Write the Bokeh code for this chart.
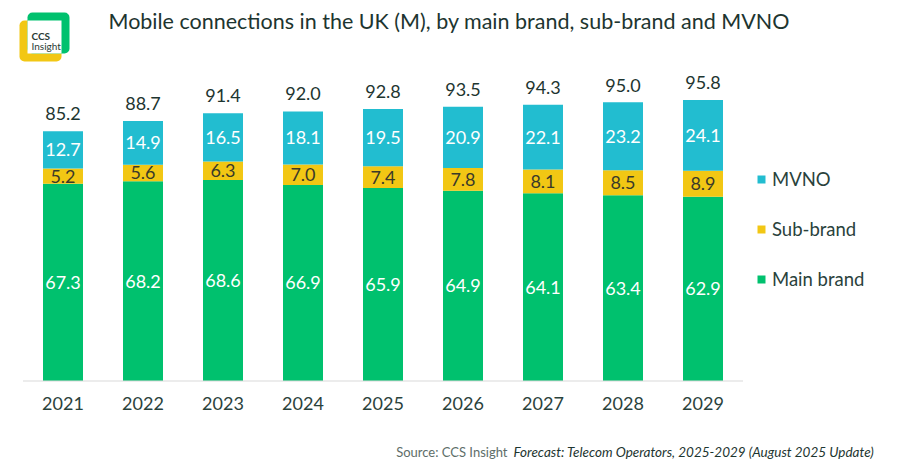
from bokeh.plotting import figure
from bokeh.models import (ColumnDataSource, LabelSet, Label, Legend, LegendItem,
                          BoxAnnotation, Range1d)
from bokeh.embed import file_html
from bokeh.resources import INLINE
from bokeh.core.properties import value

years = ["2021", "2022", "2023", "2024", "2025", "2026", "2027", "2028", "2029"]
main_brand = [67.3, 68.2, 68.6, 66.9, 65.9, 64.9, 64.1, 63.4, 62.9]
sub_brand = [5.2, 5.6, 6.3, 7.0, 7.4, 7.8, 8.1, 8.5, 8.9]
mvno = [12.7, 14.9, 16.5, 18.1, 19.5, 20.9, 22.1, 23.2, 24.1]
totals = [85.2, 88.7, 91.4, 92.0, 92.8, 93.5, 94.3, 95.0, 95.8]

C_MAIN = "#00C16E"
C_SUB = "#F2C714"
C_MVNO = "#22BDD0"
DARK = "#1D3530"
FONT = "Lato"

W, H = 896, 469
idx = list(range(len(years)))

src = ColumnDataSource(dict(
    x=idx, year=years, main=main_brand, sub=sub_brand, mvno=mvno, total=totals,
    zero=[0] * len(years),
    main_mid=[m / 2 for m in main_brand],
    sub_mid=[m + s / 2 for m, s in zip(main_brand, sub_brand)],
    mvno_mid=[m + s + v / 2 for m, s, v in zip(main_brand, sub_brand, mvno)],
    main_txt=[f"{v:.1f}" for v in main_brand],
    sub_txt=[f"{v:.1f}" for v in sub_brand],
    mvno_txt=[f"{v:.1f}" for v in mvno],
    total_txt=[f"{v:.1f}" for v in totals],
))

# frame covers the whole canvas; 80 px per category, 2.93 px per million
x0 = -62.5 / 80
y0 = -88.5 / 2.93
p = figure(width=W, height=H, output_backend="svg", toolbar_location=None,
           x_range=Range1d(x0, x0 + W / 80), y_range=Range1d(y0, y0 + H / 2.93),
           x_axis_location=None, y_axis_location=None, min_border=0)
p.outline_line_color = None
p.grid.visible = False

rs = p.vbar_stack(["main", "sub", "mvno"], x="x", width=0.5, source=src,
                  color=[C_MAIN, C_SUB, C_MVNO], line_color=None)

# baseline
p.line(x=[idx[0] - 0.5, idx[-1] + 0.5], y=[0, 0], line_color="#D9D9D9", line_width=1.2)

# year labels
p.add_layout(LabelSet(x="x", y="zero", text="year", source=src, y_offset=-22,
                      text_font=value(FONT), text_font_size="18px", text_align="center",
                      text_baseline="middle", text_color="#2A423C"))

common = dict(x="x", source=src, text_font=value(FONT), text_font_size="18px",
              text_align="center", text_baseline="middle")
p.add_layout(LabelSet(y="main_mid", text="main_txt", text_color="white", **common))
p.add_layout(LabelSet(y="sub_mid", text="sub_txt", text_color="#3A3A2A", **common))
p.add_layout(LabelSet(y="mvno_mid", text="mvno_txt", text_color="white", **common))
p.add_layout(LabelSet(x="x", y="total", text="total_txt", source=src, y_offset=11,
                      text_font=value(FONT), text_font_size="18px", text_align="center",
                      text_baseline="bottom", text_color=DARK))

legend = Legend(items=[LegendItem(label="MVNO", renderers=[rs[2]]),
                       LegendItem(label="Sub-brand", renderers=[rs[1]]),
                       LegendItem(label="Main brand", renderers=[rs[0]])],
                location=(756, H - 290), orientation="vertical",
                label_text_font=FONT, label_text_font_size="18.5px", label_text_color="#2A423C",
                glyph_width=10, glyph_height=10, label_height=20, spacing=28,
                label_standoff=6, padding=0, margin=0,
                border_line_color=None, background_fill_color=None)
p.add_layout(legend, "center")

# title
p.add_layout(Label(x=108, y=H - 20, x_units="screen", y_units="screen",
                   text="Mobile connections in the UK (M), by main brand, sub-brand and MVNO",
                   text_font=FONT, text_font_size="21.5px", text_color=DARK,
                   text_baseline="middle"))

# logo
def box(l, r, t, b, color, radius):
    return BoxAnnotation(left=l, right=r, top=H - t, bottom=H - b, left_units="screen",
                         right_units="screen", top_units="screen", bottom_units="screen",
                         fill_color=color, fill_alpha=1, line_color=None,
                         border_radius=radius)

p.add_layout(box(19, 61, 20, 61, C_SUB, 5))
p.add_layout(box(27, 69, 12, 53, C_MAIN, 5))
p.add_layout(box(27, 61, 20, 53, "white", 0))
p.add_layout(Label(x=31, y=H - 35, x_units="screen", y_units="screen", text="CCS",
                   text_font=FONT, text_font_style="bold", text_font_size="10px",
                   text_color="#2B3B36", text_baseline="middle"))
p.add_layout(Label(x=31, y=H - 45, x_units="screen", y_units="screen", text="Insight",
                   text_font=FONT, text_font_size="10px",
                   text_color="#2B3B36", text_baseline="middle"))

# source
p.add_layout(Label(x=507, y=H - 451, x_units="screen", y_units="screen",
                   text="Source: CCS Insight", text_font=FONT, text_font_size="13px",
                   text_color="#5E6E69", text_align="right", text_baseline="middle"))
p.add_layout(Label(x=513, y=H - 451, x_units="screen", y_units="screen",
                   text="Forecast: Telecom Operators, 2025-2029 (August 2025 Update)",
                   text_font=FONT, text_font_size="13.5px", text_font_style="italic",
                   text_color=DARK, text_baseline="middle"))

open("out.html", "w").write(file_html(p, INLINE))
